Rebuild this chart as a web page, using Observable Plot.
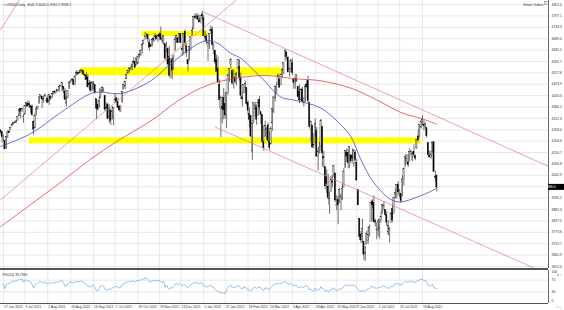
<!DOCTYPE html>
<html><head><meta charset="utf-8">
<script src="https://cdn.jsdelivr.net/npm/d3@7"></script>
<script src="https://cdn.jsdelivr.net/npm/@observablehq/plot@0.6"></script>
<style>
html,body{margin:0;padding:0;background:#fff;}
body{width:564px;height:310px;overflow:hidden;font-family:"Liberation Sans",Arial,sans-serif;}
#main svg,#rsi svg{display:block;}
#sep{height:2px;background:#555;width:548px;}
</style></head><body>
<div id="main"></div><div id="sep"></div><div id="rsi"></div>
<script>
// ---- trading calendar (US500 daily bars) ----
const firstDay = "2021-05-27", lastDay = "2022-08-30";
const holidays = ["2021-05-31","2021-07-05","2021-09-06","2021-11-25","2021-12-24","2022-01-17","2022-02-21","2022-04-15","2022-05-30","2022-06-20","2022-07-04"];

// ---- OHLC, May 27 2021 .. Aug 30 2022 ----
const open = [4210,4210,
4216,4206,4191,4207,4229,4233,4233,4229,4243,4248,4256,4248,4220,4206,4173,4224,4249,4256,4275,4284,4293,4290,
4300,4322,4357,4351,4321,4330,4372,4381,4381,4370,4368,4296,4265,4332,4361,4381,4410,4416,4403,4413,4396,
4406,4392,4415,4408,4429,4438,4436,4442,4446,4464,4461,4463,4440,4382,4410,4450,4484,4490,4493,4474,4514,4529,
4528,4534,4532,4535,4518,4513,4506,4474,4479,4447,4477,4469,4403,4375,4367,4406,4439,4442,4419,4363,4375,
4317,4348,4309,4320,4384,4407,4391,4368,4358,4386,4447,4463,4497,4524,4532,4547,4553,4579,4580,4563,4572,
4610,4613,4630,4662,4699,4701,4707,4670,4659,4655,4689,4679,4701,4700,4708,4713,4679,4675,4664,4628,4640,
4603,4504,4589,4548,4632,4690,4691,4688,4711,4642,4637,4720,4652,4587,4594,4633,4703,4733,4795,4788,4795,4776,
4778,4804,4787,4694,4698,4655,4670,4729,4733,4637,4633,4588,4548,4471,4356,4366,4409,4381,4337,4431,
4519,4566,4536,4483,4505,4480,4547,4554,4506,4412,4430,4455,4457,4385,4332,4324,4155,4298,4355,
4364,4323,4401,4342,4327,4202,4224,4253,4279,4202,4189,4288,4345,4407,4462,4469,4494,4469,4522,4541,4602,4624,4599,
4540,4547,4573,4495,4474,4494,4462,4437,4397,4449,4385,4390,4473,4489,4385,4256,4279,4187,4223,4253,
4131,4160,4181,4272,4129,4081,4035,3990,3903,3963,4014,4053,4052,3900,3927,3920,3943,3929,3985,4077,4151,
4150,4096,4137,4135,4097,4148,4102,3974,3838,3763,3764,3729,3665,3715,3733,3775,3821,3920,3913,3826,3786,
3782,3792,3831,3859,3888,3880,3854,3773,3763,3818,3883,3861,3935,3955,3999,3965,3954,3951,4026,4087,
4112,4104,4107,4155,4116,4155,4134,4170,4227,4225,4269,4291,4281,4273,4266,4196,4133,4126,4154,4199,4034,4041];
const high = [4213,4218,
4234,4213,4198,4234,4232,4237,4237,4249,4249,4255,4257,4251,4233,4207,4226,4255,4256,4271,4286,4293,4300,4302,
4321,4355,4359,4361,4330,4372,4387,4394,4393,4375,4376,4301,4336,4361,4369,4415,4423,4416,4415,4430,4412,
4422,4424,4417,4430,4441,4443,4450,4449,4461,4468,4480,4463,4455,4418,4444,4489,4493,4502,4495,4513,4538,4532,
4537,4545,4542,4536,4521,4529,4520,4492,4486,4486,4486,4471,4403,4394,4416,4452,4463,4457,4419,4385,4383,
4376,4356,4369,4365,4429,4412,4407,4374,4372,4439,4475,4488,4521,4540,4551,4560,4572,4599,4585,4597,4608,
4620,4635,4664,4684,4718,4714,4708,4685,4664,4688,4697,4714,4701,4708,4717,4744,4699,4703,4664,4672,4646,
4652,4596,4608,4612,4694,4706,4697,4713,4711,4660,4712,4731,4666,4592,4651,4697,4740,4791,4808,4804,4808,4787,
4797,4818,4798,4725,4707,4673,4714,4749,4744,4665,4633,4611,4602,4495,4418,4412,4454,4428,4432,4517,
4546,4596,4542,4540,4522,4531,4590,4589,4527,4427,4472,4490,4457,4395,4362,4325,4294,4385,4389,
4375,4401,4416,4342,4327,4277,4299,4268,4291,4248,4272,4358,4412,4465,4481,4522,4501,4520,4546,4576,4637,4628,4604,
4549,4593,4593,4503,4521,4520,4464,4471,4453,4460,4411,4471,4489,4512,4386,4299,4279,4241,4309,4269,
4169,4200,4308,4272,4157,4082,4069,4049,3964,4038,4046,4091,4052,3946,3944,3981,3955,3999,4076,4158,4168,
4166,4177,4142,4169,4164,4160,4119,3974,3838,3778,3837,3729,3707,3779,3801,3809,3913,3928,3946,3836,3818,
3829,3832,3871,3906,3918,3880,3873,3829,3796,3864,3902,3939,3975,4000,4013,3976,3954,4040,4079,4140,
4141,4140,4168,4161,4152,4187,4138,4211,4258,4280,4301,4325,4302,4292,4266,4196,4159,4156,4200,4204,4062,4045];
const low = [4197,4203,
4197,4198,4165,4206,4215,4218,4219,4221,4233,4234,4238,4196,4203,4164,4165,4217,4241,4254,4271,4281,4287,4287,
4300,4322,4309,4340,4289,4329,4362,4365,4361,4337,4322,4233,4262,4324,4350,4381,4406,4360,4384,4411,4385,
4381,4373,4397,4407,4424,4424,4432,4436,4436,4460,4437,4431,4398,4367,4406,4450,4477,4486,4468,4466,4513,4513,
4522,4524,4524,4513,4493,4493,4457,4446,4435,4439,4447,4427,4306,4347,4359,4406,4430,4436,4346,4355,4307,
4288,4279,4304,4278,4383,4386,4360,4342,4340,4386,4447,4448,4496,4524,4526,4538,4537,4569,4551,4562,4567,
4596,4604,4616,4661,4681,4694,4670,4631,4648,4650,4673,4679,4684,4672,4694,4680,4664,4660,4585,4626,4560,
4511,4504,4495,4540,4632,4667,4665,4670,4666,4606,4612,4651,4600,4532,4583,4632,4703,4733,4780,4779,4776,4765,
4759,4774,4700,4671,4663,4582,4638,4711,4651,4614,4568,4531,4477,4396,4222,4287,4306,4309,4264,4421,
4483,4545,4470,4451,4476,4466,4547,4489,4401,4365,4429,4430,4374,4327,4267,4223,4114,4287,4318,
4280,4323,4345,4284,4199,4157,4224,4209,4200,4161,4187,4251,4335,4390,4425,4469,4456,4466,4502,4518,4582,4589,4530,
4507,4528,4514,4450,4450,4483,4408,4382,4394,4390,4367,4387,4455,4385,4267,4200,4170,4169,4191,4129,
4063,4144,4154,4082,4077,3976,3958,3928,3859,3963,3984,4033,3913,3876,3810,3909,3875,3925,3985,4077,4104,
4074,4074,4098,4110,4081,4108,4018,3900,3735,3721,3723,3640,3636,3715,3717,3752,3821,3885,3820,3799,3738,
3752,3742,3817,3859,3875,3849,3802,3759,3722,3818,3819,3861,3931,3930,3945,3936,3910,3942,3992,4080,
4096,4080,4107,4135,4107,4128,4112,4167,4201,4219,4262,4277,4253,4262,4219,4131,4124,4120,4147,4057,4017,3965];
const close = [4201,4204,
4202,4208,4192,4230,4226,4227,4219,4239,4247,4255,4246,4224,4222,4166,4224,4246,4242,4266,4281,4291,4291,4298,
4320,4352,4344,4358,4320,4370,4385,4369,4374,4361,4327,4259,4323,4359,4368,4412,4422,4402,4401,4419,4395,
4387,4423,4403,4429,4437,4432,4436,4447,4460,4468,4479,4448,4400,4406,4442,4480,4486,4496,4470,4509,4529,4523,
4524,4537,4535,4520,4514,4493,4459,4469,4443,4481,4474,4433,4358,4354,4396,4449,4455,4443,4353,4360,4308,
4357,4300,4345,4363,4399,4391,4361,4350,4364,4438,4471,4486,4519,4537,4549,4545,4567,4575,4551,4596,4605,
4614,4631,4660,4680,4697,4701,4686,4647,4649,4683,4683,4700,4688,4704,4698,4683,4691,4701,4595,4655,4567,
4513,4577,4538,4592,4686,4701,4668,4712,4669,4635,4710,4669,4621,4568,4649,4697,4726,4791,4786,4793,4778,4766,
4797,4794,4701,4696,4677,4670,4713,4726,4660,4663,4577,4533,4483,4398,4410,4357,4350,4326,4432,4516,
4546,4589,4477,4501,4484,4522,4587,4504,4419,4402,4472,4475,4380,4349,4305,4226,4289,4385,4374,
4306,4387,4364,4329,4201,4171,4278,4260,4204,4173,4263,4358,4412,4463,4461,4512,4457,4520,4543,4576,4632,4602,4530,
4546,4583,4526,4481,4500,4488,4413,4397,4447,4392,4391,4463,4459,4394,4272,4297,4175,4184,4288,4132,
4155,4175,4301,4147,4123,3991,4001,3936,3930,4024,4008,4088,3924,3901,3901,3974,3941,3979,4058,4158,4132,
4101,4177,4109,4121,4161,4116,4018,3901,3750,3735,3790,3667,3675,3765,3760,3796,3912,3901,3822,3819,3785,
3825,3831,3845,3903,3899,3855,3819,3802,3790,3863,3831,3937,3960,3999,3962,3967,3921,4024,4072,4130,
4119,4091,4155,4152,4145,4140,4122,4210,4208,4280,4297,4305,4275,4284,4228,4138,4128,4141,4199,4058,4031,3986];

// ---- moving averages ----
const ma50Dates = ["2021-06-15","2021-07-15","2021-08-13","2021-09-14","2021-09-23","2021-10-13","2021-11-11","2021-12-01","2021-12-30","2022-01-10","2022-01-20","2022-02-02","2022-02-11","2022-02-25","2022-03-08","2022-03-24","2022-04-06","2022-05-04","2022-05-24","2022-06-03","2022-06-14","2022-06-28","2022-07-15","2022-07-26","2022-08-11","2022-08-26","2022-08-30"];
const ma50Values = [4180,4240,4340,4430,4437,4430,4490,4565,4665,4680,4667,4620,4596,4540,4493,4413,4399,4361,4281,4225,4116,4008,3928,3918,3942,3975,3984];
const ma200Dates = ["2021-06-15","2021-07-15","2021-08-13","2021-09-14","2021-10-13","2021-11-11","2021-12-10","2022-01-10","2022-02-10","2022-03-10","2022-04-06","2022-05-04","2022-06-03","2022-06-30","2022-07-26","2022-08-16","2022-08-30"];
const ma200Values = [3800,3905,4010,4120,4215,4300,4400,4470,4505,4515,4500,4490,4455,4400,4340,4310,4285];

// ---- drawn objects ----
const bandFrom = ["2021-11-03","2021-09-02","2021-07-14"];
const bandTo = ["2022-01-10","2022-03-25","2022-08-15"];
const bandLow = [4700,4514,4192];
const bandHigh = [4724,4552,4220];

const trendFromDate = ["2021-06-17","2021-06-17","2022-01-04","2022-01-18"];
const trendFromPrice = [4753,3939,4818,4272];
const trendToDate = ["2021-06-24","2022-01-04","2022-08-16","2022-08-16"];
const trendToPrice = [4807,4736,4352,3838];
const trendBackRay = [true,true,false,false];

// ---- axes ----
const priceTicks = [4851.0,4797.1,4743.3,4689.4,4635.5,4581.7,4527.8,4473.9,4420.0,4366.2,4312.3,4258.4,4204.6,4150.7,4096.8,4042.9,3989.1,3935.2,3881.3,3827.5,3773.6,3719.7,3665.9,3612.0];
const tickDates = ["2021-06-17","2021-07-09","2021-08-02","2021-08-24","2021-09-16","2021-10-07","2021-10-29","2021-11-19","2021-12-13","2022-01-05","2022-01-27","2022-02-18","2022-03-14","2022-04-05","2022-04-28","2022-05-19","2022-06-09","2022-07-01","2022-07-25","2022-08-16"];
const tickLabels = ["17 Jun 2021","9 Jul 2021","2 Aug 2021","24 Aug 2021","16 Sep 2021","7 Oct 2021","29 Oct 2021","19 Nov 2021","13 Dec 2021","5 Jan 2022","27 Jan 2022","18 Feb 2022","14 Mar 2022","5 Apr 2022","28 Apr 2022","19 May 2022","9 Jun 2022","1 Jul 2022","25 Jul 2022","16 Aug 2022"];
const rsiTicks = [0,30,70,100];
const headerText = "\u25BE US500,Daily  4041.3 4045.0 3965.2 3986.1";

// view window (bar index range and price range shown)
const xDomain = [11.9, 395.1];
const yDomain = [3602.5, 4869.9];

// ---- build ----
const days = [];
for (let t = Date.UTC(2021,4,27); t <= Date.UTC(2022,7,30); t += 864e5) {
  const d = new Date(t), w = d.getUTCDay(), s = d.toISOString().slice(0,10);
  if (w > 0 && w < 6 && !holidays.includes(s)) days.push(s);
}
const bar = s => { let i = days.indexOf(s); if (i < 0) i = days.findIndex(d => d > s); return i; };
const n = Math.min(open.length, high.length, low.length, close.length);
const candles = d3.range(n).map(i => ({i, o: open[i], h: high[i], l: low[i], c: close[i]}));
const ma50 = ma50Dates.map((d, k) => ({b: bar(d), v: ma50Values[k]}));
const ma200 = ma200Dates.map((d, k) => ({b: bar(d), v: ma200Values[k]}));
const bands = bandFrom.map((d, k) => ({b1: bar(d), b2: bar(bandTo[k]), lo: bandLow[k], hi: bandHigh[k]}));
const trends = trendFromDate.map((d, k) => {
  const b1 = bar(d), b2 = bar(trendToDate[k]), p1 = trendFromPrice[k], p2 = trendToPrice[k];
  const slope = (p2 - p1) / (b2 - b1);
  const xs = trendBackRay[k] ? xDomain[0] : b1;
  return {x1: xs, y1: p1 + slope * (xs - b1), x2: xDomain[1], y2: p1 + slope * (xDomain[1] - b1)};
});
const tickBars = tickDates.map(bar);
const labelByBar = new Map(tickBars.map((b, k) => [b, tickLabels[k]]));
const lastClose = close[n - 1];

// RSI(14), Wilder
const rsi = [];
let ag = 0, al = 0;
for (let i = 1; i < n; i++) {
  const ch = close[i] - close[i-1], g = Math.max(ch, 0), l = Math.max(-ch, 0);
  if (i <= 14) { ag += g / 14; al += l / 14; }
  else { ag = (ag * 13 + g) / 14; al = (al * 13 + l) / 14; }
  if (i >= 14) rsi.push({i, v: al === 0 ? 100 : 100 - 100 / (1 + ag / al)});
}
const lastRsi = rsi[rsi.length - 1].v;

const txt = {fontSize: 3.4, fill: "#333", fontFamily: "Liberation Sans, Arial, sans-serif"};
const grid = "#e2e2e2";
const pxPerPoint = 268 / (yDomain[1] - yDomain[0]);

const main = Plot.plot({
  width: 564, height: 268,
  marginLeft: 0, marginRight: 16, marginTop: 0, marginBottom: 0,
  x: {domain: xDomain, axis: null},
  y: {domain: yDomain, axis: null},
  marks: [
    Plot.ruleX(tickBars, {stroke: grid, strokeWidth: 0.8}),
    Plot.ruleY(priceTicks, {stroke: grid, strokeWidth: 0.8}),
    Plot.rect(bands, {x1: "b1", x2: "b2", y1: "lo", y2: "hi", fill: "#ffff00"}),
    Plot.ruleX(candles, {x: "i", y1: "l", y2: "h", stroke: "#111", strokeWidth: 0.6}),
    Plot.rect(candles, {x1: d => d.i - 0.38, x2: d => d.i + 0.38, y1: "o", y2: "c",
      fill: d => d.c >= d.o ? "#fff" : "#000", stroke: "#000", strokeWidth: 0.35}),
    Plot.line(ma200, {x: "b", y: "v", stroke: "#e04848", strokeWidth: 0.8, curve: "catmull-rom"}),
    Plot.line(ma50, {x: "b", y: "v", stroke: "#4a4ac4", strokeWidth: 0.8, curve: "catmull-rom"}),
    Plot.link(trends, {x1: "x1", y1: "y1", x2: "x2", y2: "y2", stroke: "#e87a7a", strokeWidth: 0.7, clip: true}),
    Plot.ruleX([xDomain[1]], {stroke: "#666", strokeWidth: 1}),
    // price labels; the one under the current-price box is hidden by it (as in the terminal)
    Plot.axisY(priceTicks.filter(t => Math.abs(t - lastClose) * pxPerPoint > 4.5),
      {anchor: "right", tickSize: 1.5, tickPadding: 1.5, tickFormat: d => d.toFixed(1), ...txt, stroke: null}),
    Plot.text([headerText], {frameAnchor: "top-left", dx: 3, dy: 3, textAnchor: "start", ...txt}),
    Plot.text(["Smart Orders"], {frameAnchor: "top-right", dx: -5, dy: 3, textAnchor: "end", ...txt})
  ]
});
// current price marker on the price scale
{
  const yv = main.scale("y").apply(lastClose);
  const xr = main.scale("x").apply(xDomain[1]);
  const g = d3.select(main).append("g");
  g.append("rect").attr("x", xr).attr("y", yv - 3).attr("width", 564 - xr).attr("height", 6).attr("fill", "#000");
  g.append("text").attr("x", xr + 2.5).attr("y", yv).attr("dy", "0.35em").attr("fill", "#fff")
    .attr("font-size", 3.4).attr("font-family", "Liberation Sans, Arial, sans-serif").text(lastClose.toFixed(1));
  g.append("rect").attr("x", xr - 3.5).attr("y", 1.5).attr("width", 2.5).attr("height", 3).attr("fill", "none").attr("stroke", "#555").attr("stroke-width", 0.4);
}
document.getElementById("main").append(main);

const rsiPlot = Plot.plot({
  width: 564, height: 40,
  marginLeft: 0, marginRight: 16, marginTop: 0, marginBottom: 7,
  x: {domain: xDomain, axis: null},
  y: {domain: [-10.3, 103.4], axis: null},
  marks: [
    Plot.ruleX(tickBars, {stroke: grid, strokeWidth: 0.8}),
    Plot.ruleY([30, 70], {stroke: grid, strokeWidth: 0.8}),
    Plot.line(rsi, {x: "i", y: "v", stroke: "#6aa8e8", strokeWidth: 0.7, clip: true}),
    Plot.ruleY([-10.3], {stroke: "#555", strokeWidth: 1}),
    Plot.ruleX([xDomain[1]], {stroke: "#666", strokeWidth: 1}),
    Plot.axisY(rsiTicks, {anchor: "right", tickSize: 1.5, tickPadding: 1.5, ...txt, stroke: null}),
    Plot.axisX(tickBars, {anchor: "bottom", tickSize: 1.5, tickPadding: 0.5, textAnchor: "start", dx: 0.5,
      tickFormat: d => labelByBar.get(d), ...txt, stroke: null}),
    Plot.text(["RSI(14) " + lastRsi.toFixed(4)], {frameAnchor: "top-left", dx: 2, dy: 3, textAnchor: "start", ...txt})
  ]
});
document.getElementById("rsi").append(rsiPlot);
</script>
</body></html>
